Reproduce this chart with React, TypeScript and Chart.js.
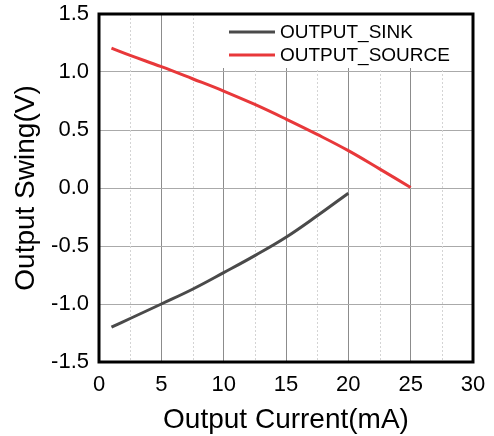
import { useEffect, useRef } from "react";
import { Chart, registerables } from "chart.js";

Chart.register(...registerables);

const currentSink = [1, 2.5, 5, 7.5, 10, 12.5, 15, 17.5, 20];
const swingSink = [-1.2, -1.125, -1.0, -0.873, -0.73, -0.583, -0.425, -0.24, -0.045];
const currentSource = [1, 2.5, 5, 7.5, 10, 12.5, 15, 17.5, 20, 22.5, 25];
const swingSource = [1.205, 1.143, 1.046, 0.942, 0.836, 0.72, 0.594, 0.462, 0.322, 0.165, 0.005];
const xTicks = [0, 5, 10, 15, 20, 25, 30];
const xMinorTicks = [2.5, 7.5, 12.5, 17.5, 22.5, 27.5];
const yTicks = [-1.5, -1.0, -0.5, 0, 0.5, 1.0, 1.5];
const seriesLabels = ["OUTPUT_SINK", "OUTPUT_SOURCE"];
const seriesColors = ["#4a4a4a", "#e8383a"];

const FONT = '"Liberation Sans", Arial, sans-serif';

const decor = {
  id: "decor",
  beforeDatasetsDraw(chart: any) {
    const { ctx, chartArea: a, scales } = chart;
    const x = scales.x;
    ctx.save();
    ctx.strokeStyle = "#d4d4d4";
    ctx.lineWidth = 1;
    ctx.setLineDash([2, 2]);
    xMinorTicks.forEach((v) => {
      const px = Math.round(x.getPixelForValue(v)) + 0.5;
      ctx.beginPath();
      ctx.moveTo(px, a.top);
      ctx.lineTo(px, a.bottom);
      ctx.stroke();
    });
    ctx.restore();
  },
  afterDatasetsDraw(chart: any) {
    const { ctx, chartArea: a } = chart;
    ctx.save();
    const boxL = a.left + 118;
    const boxT = a.top;
    const boxR = a.right - 1;
    const boxB = a.top + 54;
    ctx.fillStyle = "#ffffff";
    ctx.fillRect(boxL, boxT, boxR - boxL, boxB - boxT);
    chart.data.datasets.forEach((ds: any, i: number) => {
      const y = a.top + 18 + i * 23;
      ctx.strokeStyle = ds.borderColor;
      ctx.lineWidth = 3;
      ctx.beginPath();
      ctx.moveTo(a.left + 130, y);
      ctx.lineTo(a.left + 176, y);
      ctx.stroke();
      ctx.fillStyle = "#000";
      ctx.font = `19px ${FONT}`;
      ctx.textBaseline = "middle";
      ctx.textAlign = "left";
      ctx.fillText(ds.label, a.left + 181, y + 1);
    });
    ctx.strokeStyle = "#000";
    ctx.lineWidth = 3;
    ctx.strokeRect(a.left, a.top, a.right - a.left, a.bottom - a.top);
    ctx.restore();
  },
};

export default function App() {
  const ref = useRef<HTMLCanvasElement>(null);
  useEffect(() => {
    document.body.style.margin = "0";
    const canvas = ref.current;
    if (!canvas) return;
    const chart = new Chart(canvas, {
      type: "line",
      data: {
        datasets: [
          {
            label: seriesLabels[0],
            data: currentSink.map((x, i) => ({ x, y: swingSink[i] })),
            borderColor: seriesColors[0],
            backgroundColor: seriesColors[0],
            borderWidth: 3,
            pointRadius: 0,
            tension: 0.4,
            fill: false,
          },
          {
            label: seriesLabels[1],
            data: currentSource.map((x, i) => ({ x, y: swingSource[i] })),
            borderColor: seriesColors[1],
            backgroundColor: seriesColors[1],
            borderWidth: 3,
            pointRadius: 0,
            tension: 0.4,
            fill: false,
          },
        ],
      },
      options: {
        responsive: false,
        animation: false,
        layout: { padding: { top: 14, right: 21, left: 0, bottom: 0 } },
        plugins: { legend: { display: false }, tooltip: { enabled: false } },
        scales: {
          x: {
            type: "linear",
            min: 0,
            max: 30,
            afterBuildTicks: (s: any) => {
              s.ticks = xTicks.map((v) => ({ value: v }));
            },
            afterFit: (s: any) => {
              s.height = 74;
              s.paddingLeft = 0;
              s.paddingRight = 0;
              s.paddingTop = 0;
              s.paddingBottom = 0;
            },
            ticks: {
              color: "#000",
              font: { family: FONT, size: 22 },
              padding: 10,
              maxRotation: 0,
              autoSkip: false,
            },
            grid: { color: "#8c8c8c", lineWidth: 1, drawTicks: false },
            border: { display: false },
            title: {
              display: true,
              text: "Output Current(mA)",
              color: "#000",
              font: { family: FONT, size: 28 },
              padding: { top: 0, bottom: -1 },
            },
          },
          y: {
            type: "linear",
            min: -1.5,
            max: 1.5,
            afterBuildTicks: (s: any) => {
              s.ticks = yTicks.map((v) => ({ value: v }));
            },
            afterFit: (s: any) => {
              s.width = 99;
              s.paddingLeft = 0;
              s.paddingRight = 0;
              s.paddingTop = 0;
              s.paddingBottom = 0;
            },
            ticks: {
              color: "#000",
              font: { family: FONT, size: 22 },
              padding: 10,
              autoSkip: false,
              callback: (v: any) => Number(v).toFixed(1),
            },
            grid: { color: "#aaa", lineWidth: 1, drawTicks: false },
            border: { display: false },
            title: {
              display: true,
              text: "Output Swing(V)",
              color: "#000",
              font: { family: FONT, size: 28 },
              padding: { top: 9, bottom: 0 },
            },
          },
        },
      },
      plugins: [decor],
    });
    return () => chart.destroy();
  }, []);
  return (
    <div style={{ width: 494, height: 436 }}>
      <canvas ref={ref} width={494} height={436} />
    </div>
  );
}
